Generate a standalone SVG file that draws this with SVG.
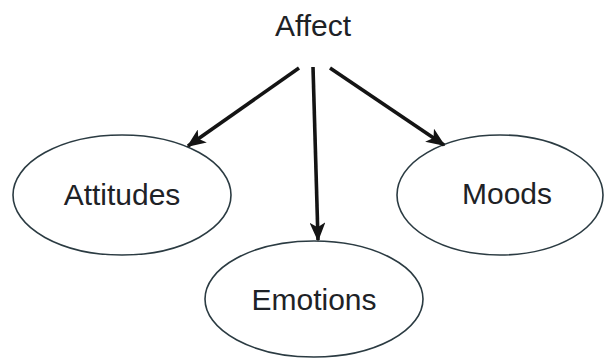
<svg xmlns="http://www.w3.org/2000/svg" width="604" height="358" viewBox="0 0 604 358">
<style>
.node ellipse{fill:#fff;stroke:#2b3b42;stroke-width:1.6}
text{font-family:"Liberation Sans",Arial,sans-serif;font-size:30px;fill:#1e2226;text-anchor:middle}
.edge{stroke:#141414;stroke-width:3.6;fill:none;marker-end:url(#ah)}
</style>
<defs>
<marker id="ah" viewBox="0 0 12 10" refX="11" refY="5" markerWidth="5.5" markerHeight="4.4" orient="auto" markerUnits="strokeWidth">
<path d="M0,0 L12,5 L0,10 L3,5 Z" fill="#141414"/>
</marker>
</defs>
<rect width="604" height="358" fill="#fff"/>
<g id="affect" class="node"><text x="313" y="36">Affect</text></g>
<g id="attitudes" class="node"><ellipse cx="122" cy="195" rx="109" ry="60"/><text x="122" y="205">Attitudes</text></g>
<g id="moods" class="node"><ellipse cx="500" cy="195" rx="103" ry="60"/><text x="507" y="204">Moods</text></g>
<g id="emotions" class="node"><ellipse cx="314" cy="299" rx="109" ry="58"/><text x="314" y="310">Emotions</text></g>
<g id="connectors">
<line class="edge" x1="299" y1="68" x2="188" y2="146"/>
<line class="edge" x1="313" y1="67" x2="318" y2="240"/>
<line class="edge" x1="330" y1="68" x2="444" y2="145"/>
</g>
</svg>
